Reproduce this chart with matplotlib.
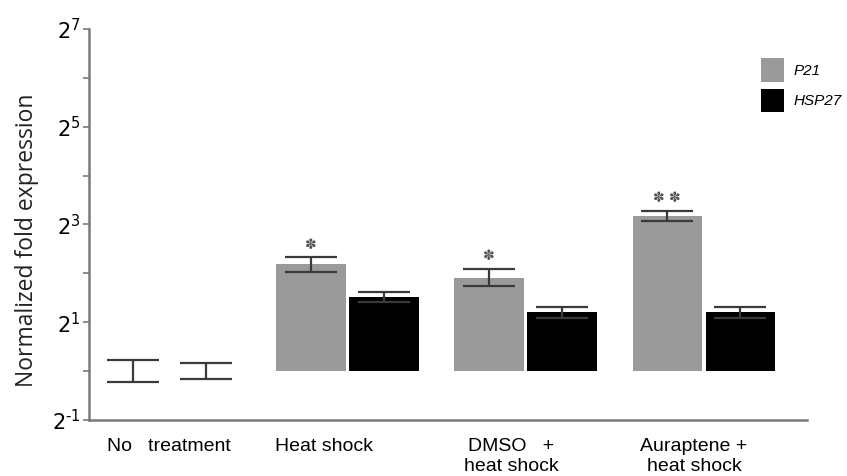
#!/usr/bin/env python3
"""
qPCR fold expression of P21 and HSP27 after heat shock (log2 axis).
"""

import numpy as np
import matplotlib
matplotlib.use('Agg')
import matplotlib.pyplot as plt

# Data (log2 fold change)
groups = ['No   treatment', 'Heat shock', 'DMSO   +\nheat shock', 'Auraptene +\nheat shock']
p21_log2 = [0.0, 2.18, 1.91, 3.18]
p21_err = [0.22, 0.15, 0.18, 0.10]
hsp27_log2 = [0.0, 1.51, 1.20, 1.20]
hsp27_err = [0.17, 0.10, 0.12, 0.12]
stars = ['', '\u273d', '\u273d', '\u273d \u273d']
ytick_pow = [-1, 0, 1, 2, 3, 4, 5, 6, 7]

GRAY = '#9a9a9a'
AXIS = '#7a7a7a'

plt.rcParams['mathtext.fontset'] = 'custom'
plt.rcParams['mathtext.rm'] = 'Open Sans'


def bar_series(ax, x, log_vals, log_err, color, label):
    lv = np.array(log_vals)
    err = np.array(log_err)
    vals = 2.0 ** lv
    lo = vals - 2.0 ** (lv - err)
    hi = 2.0 ** (lv + err) - vals
    ax.bar(x, vals - 1.0, width=0.39, bottom=1.0, color=color, label=label,
           linewidth=0, zorder=2)
    ax.errorbar(x, vals, yerr=[lo, hi], fmt='none', ecolor='#3a3a3a',
                elinewidth=1.6, capsize=19, capthick=1.6, zorder=3)
    return vals * 2.0 ** err


def tick_label(p):
    if p % 2 == 0:
        return ''
    s = str(p).replace('-', '\u2010')
    return r'$\mathregular{2^{%s}}$' % s


def main():
    fig = plt.figure(figsize=(8.47, 4.76), dpi=100)
    ax = fig.add_axes([0.105, 0.118, 0.848, 0.821])

    x = np.arange(len(groups))
    off = 0.205
    tops = bar_series(ax, x - off, p21_log2, p21_err, GRAY, 'P21')
    bar_series(ax, x + off, hsp27_log2, hsp27_err, 'black', 'HSP27')

    for xi, top, s in zip(x - off, tops, stars):
        if s:
            ax.annotate(s, (xi, top), xytext=(0, 4), textcoords='offset points',
                        ha='center', va='bottom', fontsize=10, color='#555555',
                        family='DejaVu Sans')

    ax.set_yscale('log', base=2)
    ax.set_ylim(2.0 ** -1, 2.0 ** 7)
    ax.set_xlim(-0.45, 3.58)
    ax.set_yticks([2.0 ** p for p in ytick_pow])
    ax.set_yticklabels([tick_label(p) for p in ytick_pow], fontsize=15)
    ax.yaxis.set_minor_locator(matplotlib.ticker.NullLocator())
    ax.tick_params(axis='y', length=4, width=1.2, color=AXIS, pad=2)

    # category labels sit a little left of the bar pairs in the original
    label_x = x + np.array([0.0, -0.13, -0.08, -0.055])
    ax.set_xticks(label_x)
    ax.set_xticklabels(groups, fontsize=14, family='Liberation Sans', linespacing=1.25)
    ax.tick_params(axis='x', length=0, pad=13)

    for side in ['top', 'right']:
        ax.spines[side].set_visible(False)
    for side in ['left', 'bottom']:
        ax.spines[side].set_color(AXIS)
        ax.spines[side].set_linewidth(1.8)

    ax.set_ylabel('Normalized fold expression', fontsize=16.5, family='Open Sans',
                  color='#222222')
    ax.yaxis.set_label_coords(-0.07, 0.46)

    ax.legend(loc='upper left', bbox_to_anchor=(749 / 847, 1 - 46 / 476),
              bbox_transform=fig.transFigure, frameon=False,
              handlelength=1.5, handleheight=2.0, labelspacing=0.45,
              handletextpad=0.6, borderpad=0.3,
              prop={'family': 'Liberation Sans', 'style': 'italic', 'size': 11})

    fig.savefig('out.png', dpi=100)


if __name__ == '__main__':
    main()
